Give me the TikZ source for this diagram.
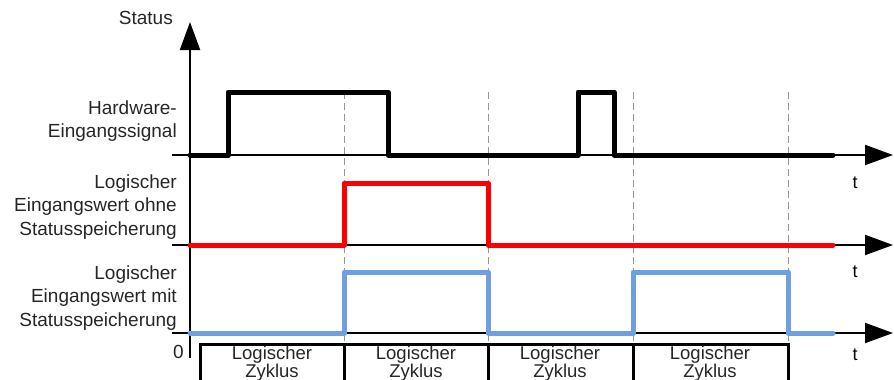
\documentclass[tikz,border=0pt]{standalone}
\usepackage{fontspec}
\setmainfont{Liberation Sans}
\usetikzlibrary{arrows.meta}
\definecolor{sigblue}{RGB}{110,160,225}
\definecolor{dashgray}{RGB}{150,150,150}
\begin{document}
\begin{tikzpicture}[x=1pt,y=-1pt,
  axis/.style={line width=2pt,-{Triangle[length=28pt,width=20pt]}},
  sig/.style={line width=5pt,line join=round,line cap=round},
  grid/.style={dashgray,dashed,line width=1pt,dash pattern=on 7pt off 4pt},
  lbl/.style={align=right,anchor=east,font=\fontsize{19}{23.5}\selectfont,text=black!85,inner sep=0pt},
  tlbl/.style={font=\fontsize{18}{20}\selectfont,inner sep=0pt},
  cyctxt/.style={align=center,font=\fontsize{18.5}{17}\selectfont,text=black!85,inner sep=0pt}]
\useasboundingbox (0,0) rectangle (894,380);
\clip (0,0) rectangle (894,380);
% coordinates
\coordinate (vb) at (190,358);
\coordinate (vt) at (190,22);
\foreach \n/\y in {a/155,b/245,c/333}{
  \coordinate (\n0) at (172,\y);
  \coordinate (\n1) at (893,\y);
}
% dashed grid
\foreach \x in {344,488,633,788}{
  \draw[grid] (\x,92) -- (\x,345);
}
% axes
\draw[axis] (vb) -- (vt);
\draw[axis] (a0) -- (a1);
\draw[axis] (b0) -- (b1);
\draw[axis] (c0) -- (c1);
% signals
\draw[sig,black] (190,155) -- (228,155) -- (228,92) -- (388,92) -- (388,155) -- (578,155) -- (578,92) -- (614,92) -- (614,155) -- (833,155);
\draw[sig,red] (190,245) -- (344,245) -- (344,183) -- (488,183) -- (488,245) -- (833,245);
\draw[sig,sigblue] (190,333) -- (344,333) -- (344,272) -- (488,272) -- (488,333) -- (633,333) -- (633,272) -- (788,272) -- (788,333) -- (833,333);
% labels
\node[lbl] (status) at (173,18) {Status};
\node[lbl] (hw) at (177,121) {Hardware-\\Eingangssignal};
\node[lbl] (ohne) at (177,207) {Logischer\\Eingangswert ohne\\Statusspeicherung};
\node[lbl] (mit) at (177,298) {Logischer\\Eingangswert mit\\Statusspeicherung};
\node[lbl] (zero) at (184,352) {0};
\node[tlbl] (t1) at (855,183) {t};
\node[tlbl] (t2) at (855,272) {t};
\node[tlbl] (t3) at (855,355) {t};
% cycle boxes
\draw[line width=3pt] (200,400) -- (200,344) -- (788,344) -- (788,400);
\foreach \x in {344,488,633}{
  \draw[line width=3pt] (\x,344) -- (\x,400);
}
\node[cyctxt] (z1) at (272,364) {Logischer\\Zyklus};
\node[cyctxt] (z2) at (416,364) {Logischer\\Zyklus};
\node[cyctxt] (z3) at (560,364) {Logischer\\Zyklus};
\node[cyctxt] (z4) at (710,364) {Logischer\\Zyklus};
\end{tikzpicture}
\end{document}
